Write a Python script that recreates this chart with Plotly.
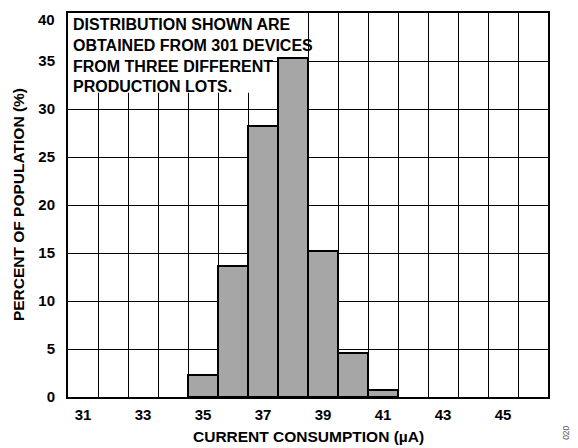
import plotly.graph_objects as go

# Data
current_ua = [35, 36, 37, 38, 39, 40, 41]
percent_pop = [2.3, 13.6, 28.2, 35.3, 15.2, 4.6, 0.7]
x_tick_vals = [31, 33, 35, 37, 39, 41, 43, 45]
x_grid_vals = [v + 0.5 for v in range(31, 46)]
y_tick_vals = [0, 5, 10, 15, 20, 25, 30, 35, 40]
y_tick_text = ["0", "5", "10", "15", "20", "25", "30", "35", ""]
note_lines = ["DISTRIBUTION SHOWN ARE", "OBTAINED FROM 301 DEVICES",
              "FROM THREE DIFFERENT", "PRODUCTION LOTS."]

FONT = "Liberation Sans, Arial, sans-serif"

fig = go.Figure()
fig.add_trace(go.Bar(
    x=current_ua, y=percent_pop, width=1,
    marker=dict(color="#a6a6a6", line=dict(color="black", width=2)),
))

# white areas behind the note (hide grid but stay below bars)
fig.add_shape(type="rect", xref="x", yref="y", x0=30.5, x1=38.5, y0=35.3, y1=40,
              fillcolor="white", line=dict(width=0), layer="between")
fig.add_shape(type="rect", xref="x", yref="y", x0=30.5, x1=37.17, y0=31.7, y1=40,
              fillcolor="white", line=dict(width=0), layer="between")

fig.add_annotation(
    xref="paper", yref="paper", x=0.006, y=1.0, xanchor="left", yanchor="top",
    yshift=-1, text="<br>".join(note_lines), showarrow=False, align="left",
    font=dict(family=FONT, size=16, color="black", weight="bold"),
)
# top tick label, nudged down so that it stays inside the picture
fig.add_annotation(
    xref="paper", yref="y", x=-0.023, y=y_tick_vals[-1], xanchor="right",
    yanchor="top", yshift=4, text=str(y_tick_vals[-1]), showarrow=False,
    font=dict(family=FONT, size=15, color="black", weight="bold"),
)
fig.add_annotation(
    xref="paper", yref="paper", x=-0.104, y=0.5, xanchor="center", yanchor="middle",
    text="PERCENT OF POPULATION (%)", textangle=-90, showarrow=False,
    font=dict(family=FONT, size=15.5, color="black", weight="bold"),
)
fig.add_annotation(
    xref="paper", yref="paper", x=0.5, y=-0.104, xanchor="center", yanchor="middle",
    text="CURRENT CONSUMPTION (µA)", showarrow=False,
    font=dict(family=FONT, size=15.5, color="black", weight="bold"),
)
fig.add_annotation(
    xref="paper", yref="paper", x=1.037, y=-0.094, xanchor="center", yanchor="middle",
    text="020", textangle=-90, showarrow=False,
    font=dict(family=FONT, size=8.5, color="#555555"),
)

# page body has an 8px margin, so the figure is 8px smaller and offset
fig.update_layout(
    width=570, height=440,
    margin=dict(l=60, r=30, t=5, b=51),
    paper_bgcolor="white", plot_bgcolor="white",
    showlegend=False, bargap=0,
    font=dict(family=FONT, color="black"),
)
fig.update_xaxes(
    range=[30.5, 46.5], tickmode="array", tickvals=x_tick_vals,
    ticktext=[str(v) for v in x_tick_vals],
    showgrid=False, zeroline=False, automargin=False,
    showline=True, mirror=True, linecolor="black", linewidth=2,
    ticks="outside", ticklen=3, tickcolor="rgba(0,0,0,0)",
    tickfont=dict(family=FONT, size=15, weight="bold"),
    minor=dict(tickmode="array", tickvals=x_grid_vals, showgrid=True,
               gridcolor="black", gridwidth=1.3, ticks=""),
)
fig.update_yaxes(
    range=[0, 40], tickmode="array", tickvals=y_tick_vals, ticktext=y_tick_text,
    showgrid=True, gridcolor="black", gridwidth=1.3, zeroline=False,
    automargin=False, ticklabeloverflow="allow",
    showline=True, mirror=True, linecolor="black", linewidth=2,
    ticks="outside", ticklen=8, tickcolor="rgba(0,0,0,0)",
    tickfont=dict(family=FONT, size=15, weight="bold"),
)

fig.write_html("out.html")
